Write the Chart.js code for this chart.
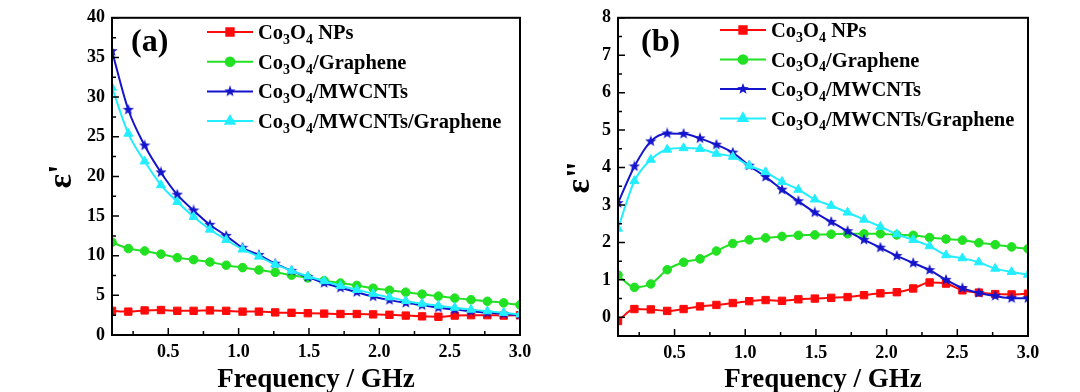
<!DOCTYPE html>
<html>
<head>
<meta charset="utf-8">
<title>Co3O4 permittivity</title>
<script src="https://cdn.jsdelivr.net/npm/chart.js@4.4.0/dist/chart.umd.min.js"></script>
<style>
  html, body { margin: 0; padding: 0; background: #fff; }
  #wrap { position: relative; width: 1080px; height: 392px; overflow: hidden; }
  canvas { position: absolute; top: 0; }
  #chartA { left: 0; }
  #chartB { left: 540px; }
</style>
</head>
<body>
<div id="wrap">
  <canvas id="chartA" width="540" height="392"></canvas>
  <canvas id="chartB" width="540" height="392"></canvas>
</div>
<script>
// frequency points carrying markers (GHz)
const frequency = [0.1, 0.216, 0.332, 0.448, 0.564, 0.68, 0.796, 0.912, 1.028, 1.144,
  1.26, 1.376, 1.492, 1.608, 1.724, 1.84, 1.956, 2.072, 2.188, 2.304,
  2.42, 2.536, 2.652, 2.768, 2.884, 3.0];

const seriesNames = ["Co3O4 NPs", "Co3O4/Graphene", "Co3O4/MWCNTs", "Co3O4/MWCNTs/Graphene"];

// (a) real part  ε'
const realNPs = [3.05, 2.95, 3.1, 3.15, 3.05, 3.05, 3.1, 3.05, 2.95, 2.95,
  2.85, 2.8, 2.75, 2.7, 2.65, 2.65, 2.6, 2.55, 2.45, 2.35,
  2.3, 2.45, 2.5, 2.5, 2.45, 2.5];
const realGraphene = [11.7, 10.9, 10.6, 10.2, 9.75, 9.5, 9.2, 8.8, 8.5, 8.2,
  7.9, 7.55, 7.2, 6.85, 6.55, 6.25, 5.9, 5.65, 5.4, 5.15,
  4.9, 4.65, 4.45, 4.25, 4.05, 3.8];
const realMWCNTs = [35.8, 28.4, 23.9, 20.5, 17.7, 15.7, 13.9, 12.5, 11.0, 10.1,
  9.0, 8.1, 7.3, 6.55, 5.95, 5.4, 4.85, 4.4, 4.05, 3.75,
  3.45, 3.2, 3.0, 2.8, 2.65, 2.5];
const realMWCNTsGraphene = [31.2, 25.4, 21.9, 18.9, 16.8, 14.9, 13.3, 12.0, 10.8, 9.9,
  8.9, 8.1, 7.4, 6.8, 6.2, 5.7, 5.2, 4.75, 4.3, 3.95,
  3.7, 3.45, 3.2, 3.0, 2.8, 2.6];

// (b) imaginary part  ε"
const imagNPs = [-0.1, 0.22, 0.21, 0.17, 0.22, 0.29, 0.33, 0.38, 0.43, 0.46,
  0.44, 0.48, 0.5, 0.52, 0.54, 0.59, 0.64, 0.67, 0.77, 0.93,
  0.9, 0.72, 0.66, 0.62, 0.61, 0.63];
const imagGraphene = [1.13, 0.8, 0.89, 1.27, 1.47, 1.56, 1.77, 1.97, 2.07, 2.12,
  2.16, 2.19, 2.2, 2.22, 2.23, 2.23, 2.23, 2.2, 2.19, 2.13,
  2.09, 2.06, 1.99, 1.94, 1.88, 1.83];
const imagMWCNTs = [3.05, 4.03, 4.7, 4.91, 4.9, 4.78, 4.61, 4.4, 4.05, 3.75,
  3.41, 3.1, 2.8, 2.55, 2.3, 2.07, 1.86, 1.64, 1.45, 1.26,
  1.0, 0.78, 0.65, 0.57, 0.51, 0.51];
const imagMWCNTsGraphene = [2.37, 3.64, 4.21, 4.48, 4.52, 4.5, 4.37, 4.29, 4.05, 3.88,
  3.62, 3.41, 3.15, 2.98, 2.8, 2.61, 2.42, 2.22, 2.07, 1.9,
  1.66, 1.58, 1.47, 1.3, 1.21, 1.14];

const xTickValues = [0.5, 1.0, 1.5, 2.0, 2.5, 3.0];
const xMinorValues = [0.25, 0.75, 1.25, 1.75, 2.25, 2.75];
const yTickValuesA = [0, 5, 10, 15, 20, 25, 30, 35, 40];
const yMinorValuesA = [2.5, 7.5, 12.5, 17.5, 22.5, 27.5, 32.5, 37.5];
const yTickValuesB = [0, 1, 2, 3, 4, 5, 6, 7, 8];
const yMinorValuesB = [0.5, 1.5, 2.5, 3.5, 4.5, 5.5, 6.5, 7.5];

const FONT = '"Liberation Serif", "Times New Roman", serif';
const colors = ["#ff0a0a", "#22e022", "#1414cc", "#22eeff"];

Chart.defaults.font.family = FONT;
Chart.defaults.font.weight = "bold";
Chart.defaults.color = "#000";

// filled five-point star marker
function makeStar(color, size) {
  const c = document.createElement("canvas");
  c.width = size;
  c.height = size;
  const g = c.getContext("2d");
  const r = size / 2, ri = r * 0.42;
  g.beginPath();
  for (let i = 0; i < 10; i++) {
    const rad = i % 2 === 0 ? r : ri;
    const a = -Math.PI / 2 + i * Math.PI / 5;
    const px = r + rad * Math.cos(a), py = r + rad * Math.sin(a);
    i === 0 ? g.moveTo(px, py) : g.lineTo(px, py);
  }
  g.closePath();
  g.fillStyle = color;
  g.fill();
  return c;
}
const starImg = makeStar(colors[2], 12);

const markerStyles = [
  { pointStyle: "rect", radius: 5.2 },
  { pointStyle: "circle", radius: 4.3 },
  { pointStyle: starImg, radius: 6 },
  { pointStyle: "triangle", radius: 5.2 },
];

function makeDatasets(values) {
  return values.map((vals, i) => ({
    label: seriesNames[i],
    data: frequency.map((f, k) => ({ x: f, y: vals[k] })),
    borderColor: colors[i],
    backgroundColor: colors[i],
    borderWidth: 2,
    pointStyle: markerStyles[i].pointStyle,
    pointRadius: markerStyles[i].radius,
    pointBorderWidth: 1,
    cubicInterpolationMode: "monotone",
    order: 4 - i,
  }));
}

function drawSubText(ctx, text, x, baseline, size) {
  let cx = x;
  for (const p of text.split(/(\d)/)) {
    if (!p) continue;
    const sub = /^\d$/.test(p);
    ctx.font = "bold " + (sub ? Math.round(size * 0.66) : size) + "px " + FONT;
    ctx.fillText(p, cx, sub ? baseline + size * 0.24 : baseline);
    cx += ctx.measureText(p).width;
  }
}

const decorPlugin = {
  id: "decor",
  afterDraw(chart, args, o) {
    const { ctx, chartArea: a, scales: { x, y } } = chart;
    ctx.save();
    // inward tick marks
    ctx.strokeStyle = "#000";
    ctx.lineWidth = 1.5;
    ctx.beginPath();
    for (const v of xTickValues) { const p = x.getPixelForValue(v); ctx.moveTo(p, a.bottom); ctx.lineTo(p, a.bottom - 7); }
    for (const v of xMinorValues) { const p = x.getPixelForValue(v); ctx.moveTo(p, a.bottom); ctx.lineTo(p, a.bottom - 4); }
    for (const v of o.yMajor) { const p = y.getPixelForValue(v); ctx.moveTo(a.left, p); ctx.lineTo(a.left + 7, p); }
    for (const v of o.yMinor) { const p = y.getPixelForValue(v); ctx.moveTo(a.left, p); ctx.lineTo(a.left + 4, p); }
    ctx.stroke();
    // frame
    ctx.lineWidth = 2;
    ctx.strokeRect(a.left, a.top, a.right - a.left, a.bottom - a.top);
    // panel label
    ctx.fillStyle = "#000";
    ctx.font = "bold 32px " + FONT;
    ctx.textBaseline = "middle";
    ctx.fillText(o.label, o.labelX, o.labelY);
    // legend
    ctx.textBaseline = "alphabetic";
    chart.data.datasets.forEach((ds, i) => {
      const ry = o.legendY + i * o.legendStep;
      ctx.strokeStyle = ds.borderColor;
      ctx.fillStyle = ds.backgroundColor;
      ctx.lineWidth = 2;
      ctx.beginPath();
      ctx.moveTo(o.legendX, ry);
      ctx.lineTo(o.legendX + 46, ry);
      ctx.stroke();
      Chart.helpers.drawPoint(ctx, { pointStyle: ds.pointStyle, radius: ds.pointRadius, rotation: 0, borderWidth: 1 }, o.legendX + 23, ry);
      ctx.fillStyle = "#000";
      drawSubText(ctx, ds.label, o.legendX + 51, ry + 7, 20.5);
    });
    ctx.restore();
  },
};

function makeOptions(cfg) {
  return {
    responsive: false,
    animation: false,
    layout: { padding: { left: 0, right: cfg.padRight, top: cfg.padTop, bottom: 0 } },
    plugins: {
      legend: { display: false },
      tooltip: { enabled: false },
      decor: cfg.decor,
    },
    scales: {
      x: {
        type: "linear",
        min: 0.1,
        max: 3.0,
        grid: { display: false, drawTicks: false },
        border: { display: false },
        afterBuildTicks: (s) => { s.ticks = xTickValues.map((v) => ({ value: v })); },
        afterFit: (s) => { s.height = cfg.xHeight; },
        ticks: { font: { size: 18, weight: "bold" }, padding: 7, maxRotation: 0, callback: (v) => v.toFixed(1) },
        title: {
          display: true,
          text: "Frequency / GHz",
          font: { size: 27, weight: "bold", lineHeight: 0.85 },
          padding: { top: 0, bottom: 0 },
        },
      },
      y: {
        type: "linear",
        min: cfg.yMin,
        max: cfg.yMax,
        grid: { display: false, drawTicks: false },
        border: { display: false },
        afterBuildTicks: (s) => { s.ticks = cfg.decor.yMajor.map((v) => ({ value: v })); },
        afterFit: (s) => { s.width = cfg.yWidth; },
        ticks: { font: { size: 18, weight: "bold" }, padding: 7, callback: (v) => String(v) },
        title: {
          display: true,
          text: cfg.yTitle,
          font: { size: 34, weight: "bold", lineHeight: 1 },
          padding: { top: cfg.yTitlePad, bottom: 0 },
        },
      },
    },
  };
}

new Chart(document.getElementById("chartA"), {
  type: "line",
  data: { datasets: makeDatasets([realNPs, realGraphene, realMWCNTs, realMWCNTsGraphene]) },
  options: makeOptions({
    padRight: 20, padTop: 6, xHeight: 57, yWidth: 112, yMin: 0, yMax: 40,
    yTitle: "ε'", yTitlePad: 45,
    decor: { label: "(a)", labelX: 131, labelY: 43, legendX: 207, legendY: 32, legendStep: 29.7,
      yMajor: yTickValuesA, yMinor: yMinorValuesA },
  }),
  plugins: [decorPlugin],
});

new Chart(document.getElementById("chartB"), {
  type: "line",
  data: { datasets: makeDatasets([imagNPs, imagGraphene, imagMWCNTs, imagMWCNTsGraphene]) },
  options: makeOptions({
    padRight: 52, padTop: 7, xHeight: 56, yWidth: 78, yMin: -0.5, yMax: 8,
    yTitle: 'ε"', yTitlePad: 23,
    decor: { label: "(b)", labelX: 101, labelY: 43, legendX: 180, legendY: 30, legendStep: 29.5,
      yMajor: yTickValuesB, yMinor: yMinorValuesB },
  }),
  plugins: [decorPlugin],
});
</script>
</body>
</html>
